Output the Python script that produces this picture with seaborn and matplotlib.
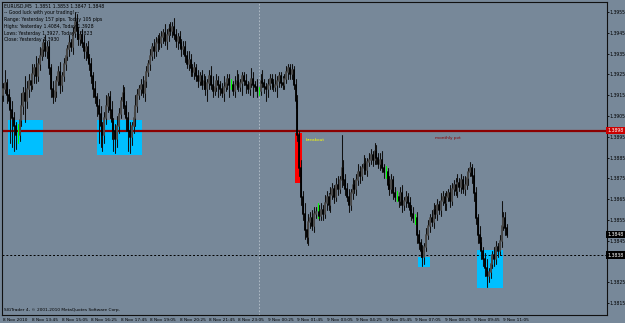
import matplotlib
matplotlib.use("Agg")
import matplotlib.pyplot as plt
import numpy as np
import pandas as pd
import seaborn as sns

# ---------------- data (prices in pips above 1.3800) ----------------
BASE = 1.3800
open0 = 115
closes = [118, 121, 115, 112,
          108, 104, 100, 96, 96, 103,
          110, 116, 112, 118, 122,
          120, 125, 128, 124, 130, 134, 137,
          140, 136, 138,
          128, 118, 114, 117,
          122, 126, 120, 124, 130,
          134, 137, 140, 138,
          145, 150, 146, 142,
          144, 140, 136, 138, 133, 130,
          124, 118, 114, 110,
          106, 100, 96, 104, 110, 114, 108, 102, 98, 94, 100, 106, 112, 116, 110, 104, 98, 95, 100, 104, 110, 115, 118,
          120, 116, 122, 126, 130,
          134, 138, 136, 140, 142, 140,
          143, 145, 141, 144, 147, 146, 148, 144, 141, 143, 140, 137, 138,
          134, 130, 132, 128, 126, 128, 124, 122, 124,
          120, 122, 118, 121, 124, 120, 117, 119, 122, 120, 118, 116, 119, 121, 123, 120, 120, 117, 120, 122,
          119, 121, 124, 122, 120, 118, 121, 123, 120, 119, 117, 117, 122, 121, 119, 118, 120, 123, 121, 119,
          120, 122, 124, 121, 120, 123,
          126, 128, 125, 127,
          120, 112,
          96, 80,
          66, 58, 50, 47, 54,
          56, 52, 58, 59, 59, 57,
          60, 58, 63, 66, 62, 67, 70, 66, 72, 70, 74,
          80, 74, 70,
          66, 62, 68, 72, 70,
          74, 78, 76, 80, 82, 79, 83, 84,
          86, 84, 88, 85, 82, 84, 80, 78,
          78, 72, 70, 74, 68, 66,
          66, 64, 68, 62, 64, 66, 63, 60,
          58, 56, 56, 48, 44,
          40, 37, 42, 48,
          52, 56, 54, 60, 58, 62, 60, 64, 66, 63,
          66, 68, 64, 70, 72, 69, 73, 71, 74, 70, 72, 75, 78,
          80, 76, 68,
          56, 48, 44, 40, 36, 32, 28, 30,
          34, 38, 36, 42, 40, 45,
          52, 56,
          51, 48]
up_wick = [3, 6, 2, 3,
           2, 4, 3, 2, 5, 3,
           6, 3, 8, 4, 3,
           3, 5, 2, 6, 3, 4, 3,
           2, 4, 3,
           3, 2, 4, 3,
           2, 3, 5, 2, 3,
           3, 2, 4, 2,
           3, 5, 4, 2,
           2, 3, 4, 2, 3, 2,
           3, 2, 4, 2,
           3, 4, 2, 3, 5, 2, 3, 4, 2, 3, 5, 3, 2, 4, 3, 2, 3, 4, 2, 3, 5, 3, 2,
           3, 4, 2, 3, 2,
           3, 2, 4, 3, 2, 3,
           3, 2, 4, 3, 2, 3, 2, 4, 3, 2, 3, 2, 3,
           3, 2, 4, 3, 2, 3, 2, 3, 2,
           3, 3, 2, 2, 3, 5, 4, 2, 3, 2, 2, 3, 5, 2, 2, 2, 3, 2, 4, 5,
           3, 2, 2, 2, 3, 2, 2, 5, 3, 2, 4, 2, 3, 5, 2, 2, 3, 2, 2, 2,
           5, 2, 2, 2, 3, 2,
           3, 2, 2, 3,
           2, 3,
           3, 2,
           4, 3, 5, 3, 4,
           3, 4, 3, 2, 4, 3,
           3, 2, 4, 3, 2, 4, 3, 2, 3, 4, 2,
           16, 4, 3,
           3, 4, 2, 3, 2,
           3, 4, 3, 2, 4, 3, 2, 3,
           3, 2, 4, 3, 2, 3, 4, 2,
           3, 2, 4, 3, 2, 3,
           3, 2, 3, 4, 2, 3, 2, 3,
           2, 3, 2, 3, 2,
           2, 3, 2, 3,
           3, 2, 4, 3, 2, 3, 2, 4, 3, 2,
           3, 2, 4, 3, 2, 3, 4, 2, 3, 2, 4, 3, 2,
           3, 2, 4,
           3, 2, 4, 3, 2, 3, 4, 2,
           3, 2, 4, 3, 2, 3,
           12, 3,
           3, 2]
dn_wick = [3, 2, 4, 3,
           16, 14, 12, 7, 4, 3,
           3, 4, 10, 3, 4,
           3, 2, 4, 3, 2, 3, 2,
           3, 2, 3,
           3, 4, 3, 2,
           3, 2, 4, 3, 2,
           3, 2, 3, 2,
           3, 2, 4, 3,
           3, 2, 3, 4, 2, 3,
           3, 4, 3, 5,
           14, 10, 8, 4, 3, 3, 4, 8, 10, 7, 4, 3, 2, 3, 4, 6, 10, 8, 4, 3, 4, 3, 2,
           3, 2, 4, 3, 2,
           3, 2, 3, 2, 4, 3,
           2, 3, 2, 4, 3, 2, 3, 2, 3, 4, 2, 3, 2,
           3, 2, 3, 4, 2, 3, 2, 3, 2,
           2, 2, 3, 6, 3, 2, 3, 2, 2, 6, 3, 2, 4, 2, 3, 6, 2, 2, 3, 2,
           2, 2, 6, 2, 4, 2, 3, 2, 6, 2, 3, 2, 2, 2, 3, 6, 4, 2, 3, 2,
           2, 6, 3, 2, 2, 2,
           2, 3, 2, 2,
           2, 3,
           3, 4,
           4, 3, 4, 3, 4,
           3, 2, 3, 2, 3, 2,
           2, 3, 2, 3, 2, 3, 2, 3, 2, 3, 2,
           3, 2, 3,
           2, 3, 2, 3, 2,
           3, 2, 3, 2, 3, 2, 3, 2,
           2, 3, 2, 3, 2, 3, 2, 3,
           3, 2, 3, 2, 3, 2,
           2, 3, 2, 3, 2, 3, 2, 3,
           3, 2, 3, 4, 3,
           3, 4, 3, 2,
           2, 3, 2, 3, 2, 3, 2, 3, 2, 3,
           3, 2, 3, 2, 3, 2, 3, 2, 3, 2, 3, 2, 3,
           2, 3, 4,
           3, 4, 3, 4, 3, 4, 5, 3,
           3, 2, 3, 2, 3, 2,
           3, 2,
           3, 1]

time_labels = ["8 Nov 2010", "8 Nov 13:45", "8 Nov 15:05", "8 Nov 16:25", "8 Nov 17:45",
               "8 Nov 19:05", "8 Nov 20:25", "8 Nov 21:45", "8 Nov 23:05", "9 Nov 00:25",
               "9 Nov 01:45", "9 Nov 03:05", "9 Nov 04:25", "9 Nov 05:45", "9 Nov 07:05",
               "9 Nov 08:25", "9 Nov 09:45", "9 Nov 11:05"]
price_ticks = [1.3955, 1.3945, 1.3935, 1.3925, 1.3915, 1.3905, 1.3895,
               1.3885, 1.3875, 1.3865, 1.3855, 1.3845, 1.3825, 1.3815]
monthly_pivot = 1.3898
support_level = 1.3838
last_price = 1.3848
# zones: (start bar, end bar, low price, high price, colour)
zones = [(2.7, 21.7, 1.3886, 1.3903, "#00BFFF"),
         (51.0, 75.5, 1.3886, 1.3903, "#00BFFF"),
         (158.7, 162.5, 1.38728, 1.38968, "#FF0000"),
         (225.5, 232.0, 1.38324, 1.38372, "#00BFFF"),
         (257.6, 271.7, 1.38223, 1.38406, "#00BFFF")]
header = ["EURUSD,M5  1.3851 1.3853 1.3847 1.3848",
          "-- Good luck with your trading! --",
          "Range: Yesterday 157 pips. Today 105 pips",
          "Highs: Yesterday 1.4084, Today 1.3928",
          "Lows: Yesterday 1.3927, Today 1.3823",
          "Close: Yesterday 1.3930"]

# ---------------- build candles ----------------
n = len(closes)
c = np.array(closes, float)
o = np.concatenate([[open0], c[:-1]])
hi = np.maximum(o, c) + np.array(up_wick)
lo = np.minimum(o, c) - np.array(dn_wick)
kind = np.where(c > o, "bull", np.where(c < o, "bear", "doji"))
idx = np.arange(n)

wicks = pd.DataFrame({
    "x": np.repeat(idx, 2),
    "y": BASE + np.column_stack([lo, hi]).ravel() / 1e4,
    "bar": np.repeat(idx, 2),
    "kind": np.repeat(kind, 2),
})
bodies = pd.DataFrame({
    "x": np.repeat(idx, 2),
    "y": BASE + np.column_stack([np.minimum(o, c), np.maximum(o, c)]).ravel() / 1e4,
    "bar": np.repeat(idx, 2),
    "kind": np.repeat(kind, 2),
})
bodies = bodies[bodies["kind"] != "doji"]

BG = "#778899"
sns.set_theme(style="white")
FONT = ["Liberation Sans Narrow", "DejaVu Sans"]
plt.rcParams["font.family"] = FONT
FS = 3.3

fig = plt.figure(figsize=(6.25, 3.23), dpi=100, facecolor=BG)
ax = fig.add_axes([2 / 625, 1 - 315 / 323, 605 / 625, 313 / 323])
ax.set_facecolor(BG)

for x0, x1, y0, y1, col in zones:
    ax.add_patch(plt.Rectangle((x0, y0), x1 - x0, y1 - y0, color=col, lw=0, zorder=1))

ax.axhline(monthly_pivot, color="#8B0000", lw=1.6, zorder=2)
ax.axhline(support_level, color="black", lw=0.7, ls=(0, (2, 2)), zorder=2)
ax.axvline(139, color="#b8c2cc", lw=0.6, ls=(0, (2, 2)), zorder=1)

sns.lineplot(data=wicks, x="x", y="y", units="bar", estimator=None, hue="kind",
             palette={"bull": "#101010", "bear": "#101010", "doji": "#00FF00"},
             linewidth=0.75, sort=False, legend=False, ax=ax, zorder=3)
sns.lineplot(data=bodies, x="x", y="y", units="bar", estimator=None, hue="kind",
             palette={"bull": "#4a4a4a", "bear": "#000000"},
             linewidth=1.35, sort=False, legend=False, ax=ax, zorder=4)

ax.set_xlim(-0.54, 328.3)
ax.set_ylim(1.38093, 1.39598)
ax.set_xlabel("")
ax.set_ylabel("")

# axes / ticks
for s in ax.spines.values():
    s.set_color("#101010")
    s.set_linewidth(0.8)
ax.yaxis.tick_right()
ax.set_yticks(price_ticks)
ax.set_yticklabels([f"{p:.4f}" for p in price_ticks])
ax.set_xticks(np.arange(0, 16 * len(time_labels), 16))
ax.set_xticklabels(time_labels)
for t in ax.get_xticklabels():
    t.set_horizontalalignment("left")
ax.tick_params(axis="y", colors="black", labelsize=FS, length=1.5, width=0.6, pad=0.4)
ax.tick_params(axis="x", colors="black", labelsize=3.1, length=2.2, width=0.6, pad=0.2)

# price labels on the axis
for val, fc in [(monthly_pivot, "#CC0000"), (last_price, "#000000"), (support_level, "#000000")]:
    ax.text(1.0012, val, f"{val:.4f}", transform=ax.get_yaxis_transform(), ha="left", va="center",
            fontsize=FS, color="white", zorder=6, clip_on=False,
            bbox=dict(boxstyle="square,pad=0.3", fc=fc, ec="none"))

# texts
for k, line in enumerate(header):
    fig.text(4 / 625, 1 - (6 + 6.8 * k) / 323, line, fontsize=3.3, color="black", va="center", ha="left")
fig.text(4 / 625, 1 - 310 / 323, "SIGTrader 4, \u00a9 2001-2010 MetaQuotes Software Corp.",
         fontsize=3.1, color="black", va="center", ha="left")
ax.text(164.5, 1.38935, "breakout", fontsize=3.1, color="#FFFF00", va="center", ha="left", zorder=6)
ax.text(235, 1.38944, "monthly pvt", fontsize=3.1, color="#8B0000", va="center", ha="left", zorder=6)

fig.savefig("out.png", dpi=100, facecolor=BG)
